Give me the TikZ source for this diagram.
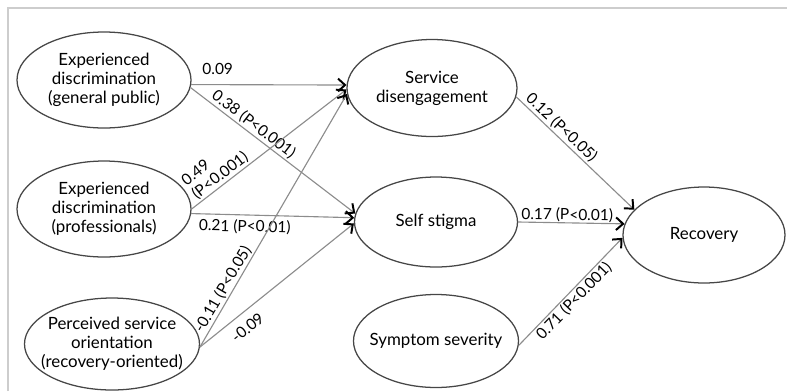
\documentclass[tikz,border=0pt]{standalone}
\usepackage{fontspec}
\setmainfont{Lato}
\usepackage{tikz}
\usetikzlibrary{shapes.geometric, arrows.meta, positioning}
\definecolor{pathgrey}{RGB}{140, 140, 140}
\definecolor{rimgrey}{RGB}{70, 70, 70}
\definecolor{framegrey}{RGB}{205, 205, 205}
\tikzset{
  construct/.style={draw=rimgrey, line width=0.9pt, ellipse, inner xsep=-8pt, inner ysep=0pt, align=center, font=\fontsize{12}{13.5}\selectfont, minimum width=4.3cm, minimum height=2.4cm},
  effect/.style={draw=pathgrey, line width=0.8pt, -{Straight Barb[length=5pt, width=9pt, line width=1.4pt, color=black]}},
  coef/.style={font=\fontsize{11}{12}\selectfont, inner sep=1pt, sloped},
}

\begin{document}
\begin{tikzpicture}
  \useasboundingbox (0, 0) rectangle (19.675, -9.775);

  % Frame
  \draw[framegrey, line width=0.8pt] (0.2, -9.775) -- (0.2, -0.2) -- (19.675, -0.2);

  % Exogenous constructs
  \node[construct, minimum width=4.35cm] (pubdisc) at (2.6, -2.0) {Experienced\\discrimination\\(general public)};
  \node[construct, minimum width=4.35cm] (profdisc) at (2.6, -5.225) {Experienced\\discrimination\\(professionals)};
  \node[construct, minimum width=4.375cm, minimum height=2.3cm] (orient) at (2.8, -8.6) {Perceived service\\orientation\\(recovery-oriented)};

  % Mediators
  \node[construct, minimum width=4.25cm, minimum height=2.425cm] (diseng) at (10.8, -2.2) {Service\\disengagement};
  \node[construct, minimum width=4.075cm, minimum height=2.25cm] (stigma) at (10.9, -5.55) {Self stigma};
  \node[construct, minimum width=4.125cm, minimum height=2.325cm] (severity) at (10.9, -8.525) {Symptom severity};

  % Outcome
  \node[construct, minimum width=4.05cm] (recovery) at (17.6, -5.875) {Recovery};

  % Paths
  \draw[effect] (pubdisc.-3) -- node[coef, pos=0.17, above=6pt] {0.09} (diseng.178);
  \draw[effect] (pubdisc.-5) -- node[coef, pos=0.35, above] {0.38 (P<0.001)} (stigma.174);
  \draw[effect] (profdisc.0) -- node[coef, pos=0.22, above, align=left] {0.49\\(P<0.001)} (diseng.181);
  \draw[effect] (profdisc.-3) -- node[coef, pos=0.33, below=2pt] {0.21 (P<0.01)} (stigma.177);
  \draw[effect] (orient.-2) -- node[coef, pos=0.21, above] {-0.11 (P<0.05)} (diseng.184);
  \draw[effect] (orient.-2) -- node[coef, pos=0.25, below=5pt] {-0.09} (stigma.181);
  \draw[effect] (diseng.-6) -- node[coef, pos=0.33, above] {0.12 (P<0.05)} (recovery.160);
  \draw[effect] (stigma.0) -- node[coef, pos=0.46, above=-1pt] {0.17 (P<0.01)} (recovery.172);
  \draw[effect] (severity.-3) -- node[coef, pos=0.47, below] {0.71 (P<0.001)} (recovery.182);
\end{tikzpicture}
\end{document}
